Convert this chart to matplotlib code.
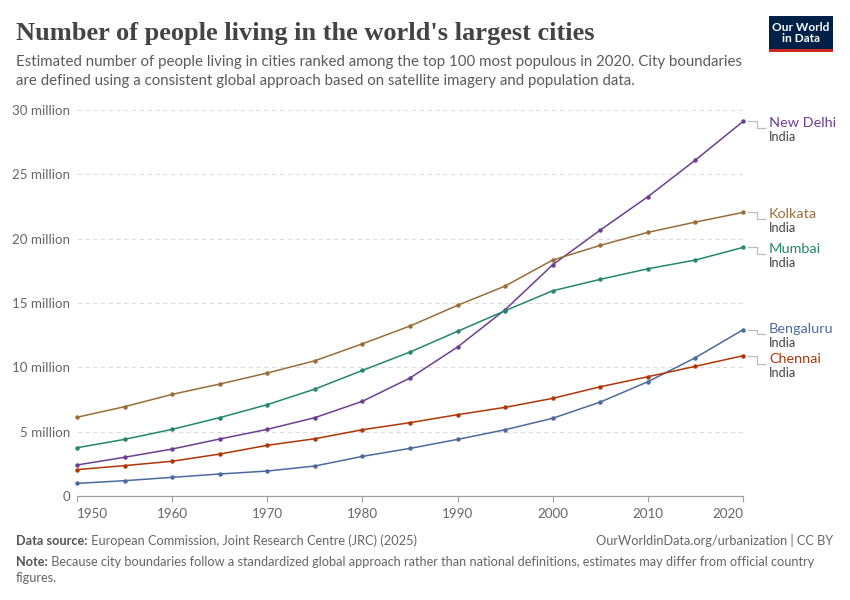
import matplotlib
matplotlib.use("Agg")
import matplotlib.pyplot as plt
from matplotlib.lines import Line2D
from matplotlib.patches import Rectangle
from matplotlib.transforms import IdentityTransform

years = [1950, 1955, 1960, 1965, 1970, 1975, 1980, 1985, 1990, 1995, 2000, 2005, 2010, 2015, 2020]
new_delhi = [2.41, 3.01, 3.65, 4.43, 5.18, 6.09, 7.36, 9.17, 11.58, 14.48, 17.97, 20.67, 23.26, 26.11, 29.11]
kolkata = [6.12, 6.94, 7.90, 8.70, 9.56, 10.51, 11.83, 13.21, 14.82, 16.32, 18.34, 19.48, 20.49, 21.29, 22.04]
mumbai = [3.75, 4.40, 5.18, 6.09, 7.10, 8.31, 9.76, 11.19, 12.80, 14.40, 15.95, 16.84, 17.66, 18.34, 19.32]
bengaluru = [0.98, 1.19, 1.45, 1.71, 1.94, 2.33, 3.08, 3.70, 4.40, 5.15, 6.04, 7.30, 8.88, 10.75, 12.92]
chennai = [2.05, 2.36, 2.70, 3.26, 3.94, 4.45, 5.15, 5.70, 6.32, 6.89, 7.59, 8.49, 9.27, 10.08, 10.90]

cities = ["New Delhi", "Kolkata", "Mumbai", "Bengaluru", "Chennai"]
series = [new_delhi, kolkata, mumbai, bengaluru, chennai]
colors = ["#6D3E91", "#996D39", "#23876A", "#4C6A9C", "#B13507"]
country = "India"

y_ticks = [0, 5, 10, 15, 20, 25, 30]
y_labels = ["0", "5 million", "10 million", "15 million", "20 million", "25 million", "30 million"]
x_ticks = [1950, 1960, 1970, 1980, 1990, 2000, 2010, 2020]

plt.rcParams["font.family"] = ["Lato", "DejaVu Sans"]

W, H = 850, 600
fig = plt.figure(figsize=(W / 100, H / 100), dpi=100)
fig.patch.set_facecolor("white")

def fx(px):
    return px / W

def fy(py):
    return 1 - py / H

ax = fig.add_axes([fx(77), fy(496), fx(743) - fx(77), fy(110) - fy(496)])
ax.set_xlim(1950, 2020)
ax.set_ylim(0, 30)

for vals, c in zip(series, colors):
    ax.plot(years, vals, color=c, lw=1.1, marker="o", ms=2.2, zorder=3, clip_on=False)

ax.set_yticks(y_ticks)
ax.set_yticklabels(y_labels)
ax.set_xticks(x_ticks)
ax.set_xticklabels([str(x) for x in x_ticks])
ax.tick_params(axis="y", length=0, pad=5, labelsize=9.6, labelcolor="#666666")
ax.tick_params(axis="x", length=4.5, width=0.8, color="#a0a0a0", pad=4, labelsize=9.6, labelcolor="#666666")
xl = ax.get_xticklabels()
xl[0].set_ha("left")
xl[-1].set_ha("right")

for s in ["top", "right", "left"]:
    ax.spines[s].set_visible(False)
ax.spines["bottom"].set_color("#a0a0a0")
ax.spines["bottom"].set_linewidth(0.9)

for t in y_ticks[1:]:
    ax.axhline(t, color="#dddddd", lw=0.8, ls=(0, (4, 3)), zorder=1)

# labels on the right, spread apart to avoid overlap (display pixels, y up)
fig.canvas.draw()
pts = [ax.transData.transform((years[-1], vals[-1])) for vals in series]
order = sorted(range(len(series)), key=lambda i: -pts[i][1])
min_gap = 30
label_y = {i: pts[i][1] - 1.5 for i in order}
for _ in range(50):
    moved = False
    for a, b in zip(order[:-1], order[1:]):
        gap = label_y[a] - label_y[b]
        if gap < min_gap:
            d = (min_gap - gap) / 2
            label_y[a] += d
            label_y[b] -= d
            moved = True
    if not moved:
        break

for i, (name, vals, c) in enumerate(zip(cities, series, colors)):
    px, py = pts[i]
    ly = label_y[i]
    xs = [px + 5, px + 14, px + 14, px + 22]
    ys = [py, py, ly - 5, ly - 5]
    fig.add_artist(Line2D(xs, ys, transform=IdentityTransform(), color="#bbbbbb", lw=0.9))
    fig.text((px + 26) / W, ly / H, name, va="center", ha="left", fontsize=10.4, color=c)
    fig.text((px + 26) / W, (ly - 14) / H, country, va="center", ha="left", fontsize=9.2, color="#444444")

# title & subtitle
fig.text(fx(16), fy(40), "Number of people living in the world's largest cities",
         fontsize=19, fontweight="bold", family=["Liberation Serif", "DejaVu Serif"],
         color="#444444", va="baseline", ha="left")
fig.text(fx(16), fy(66), "Estimated number of people living in cities ranked among the top 100 most populous in 2020. City boundaries",
         fontsize=10.8, color="#5b5b5b", va="baseline", ha="left")
fig.text(fx(16), fy(85), "are defined using a consistent global approach based on satellite imagery and population data.",
         fontsize=10.8, color="#5b5b5b", va="baseline", ha="left")

# logo
fig.add_artist(Rectangle((fx(769), fy(50)), fx(833) - fx(769), fy(16) - fy(50),
                         transform=fig.transFigure, facecolor="#002147", edgecolor="none"))
fig.add_artist(Rectangle((fx(769), fy(52)), fx(833) - fx(769), fy(49) - fy(52),
                         transform=fig.transFigure, facecolor="#CE261E", edgecolor="none"))
fig.text(fx(801), fy(33), "Our World\nin Data", fontsize=8.6, fontweight="bold", color="white",
         ha="center", va="center", linespacing=1.05)

# footer
t1 = fig.text(fx(16), fy(547), "Data source:", fontsize=9.2, fontweight="bold", color="#555555",
              va="bottom", ha="left")
ax.annotate(" European Commission, Joint Research Centre (JRC) (2025)", xy=(1, 0), xycoords=t1,
            va="bottom", ha="left", fontsize=9.2, color="#666666", annotation_clip=False)
fig.text(fx(833), fy(547), "OurWorldinData.org/urbanization | CC BY", fontsize=9.2, color="#666666",
         va="bottom", ha="right")
t2 = fig.text(fx(16), fy(568), "Note:", fontsize=9.2, fontweight="bold", color="#555555",
              va="bottom", ha="left")
ax.annotate(" Because city boundaries follow a standardized global approach rather than national definitions, estimates may differ from official country",
            xy=(1, 0), xycoords=t2, va="bottom", ha="left", fontsize=9.2, color="#666666", annotation_clip=False)
fig.text(fx(16), fy(584), "figures.", fontsize=9.2, color="#666666", va="bottom", ha="left")

fig.savefig("out.png", dpi=100, facecolor="white")
